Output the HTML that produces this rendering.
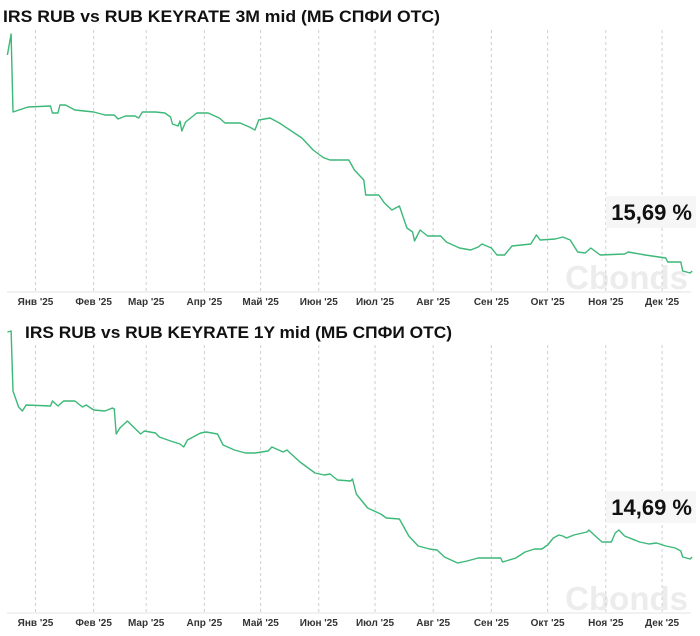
<!DOCTYPE html>
<html><head><meta charset="utf-8"><style>
html,body{margin:0;padding:0;background:#fff;width:700px;height:636px;overflow:hidden;font-family:"Liberation Sans",sans-serif;}
</style></head><body>
<svg id="chart" width="700" height="636" xmlns="http://www.w3.org/2000/svg">
<text x="3" y="22" font-size="17" font-weight="bold" fill="#111" textLength="437" lengthAdjust="spacingAndGlyphs">IRS RUB vs RUB KEYRATE 3M mid (МБ СПФИ ОТС)</text>
<text x="25" y="338" font-size="17" font-weight="bold" fill="#111" textLength="427" lengthAdjust="spacingAndGlyphs">IRS RUB vs RUB KEYRATE 1Y mid (МБ СПФИ ОТС)</text>
<g id="g1"></g><g id="g2"></g>
</svg>
<script>
const months = ["Янв '25","Фев '25","Мар '25","Апр '25","Май '25","Июн '25","Июл '25","Авг '25","Сен '25","Окт '25","Ноя '25","Дек '25"];
const monthDays = [0,31,59,90,120,151,181,212,243,273,304,334];
const days3m = [-15,-13,-12,-4,8,9,12,13,16,21,31,37,42,44,48,53,55,57,64,69,72,73,76,77,78,80,86,90,92,98,101,109,114,117,119,125,130,138,142,148,153,154,157,167,170,175,176,183,186,190,194,198,201,202,205,209,216,219,226,232,236,238,243,246,250,254,264,267,269,277,281,285,289,293,296,301,314,316,325,336,337,344,345,349,350];
const vals3m = [26.49,27.54,23.64,23.89,23.94,23.59,23.59,23.99,23.99,23.74,23.64,23.49,23.49,23.29,23.44,23.44,23.34,23.64,23.64,23.59,23.39,23.04,22.94,23.19,22.69,23.14,23.59,23.59,23.59,23.34,23.09,23.09,22.89,22.74,23.24,23.34,23.09,22.59,22.34,21.74,21.39,21.34,21.24,21.24,20.74,20.24,19.49,19.49,19.09,18.74,18.94,17.84,17.64,17.19,17.74,17.44,17.44,17.14,16.84,16.74,16.89,17.04,16.84,16.49,16.49,16.94,17.04,17.49,17.24,17.29,17.39,17.24,16.64,16.59,16.84,16.49,16.54,16.64,16.49,16.34,16.14,16.14,15.69,15.59,15.69];
const days1y = [-15,-13,-12,-9,-7,-5,8,9,12,15,21,25,27,31,37,41,42,43,45,49,56,58,64,66,72,77,79,81,88,91,97,100,106,112,117,124,126,132,134,141,149,154,157,161,168,169,171,177,184,187,194,199,204,210,214,218,225,230,236,243,248,249,256,261,266,270,273,276,279,281,283,287,294,295,299,302,307,309,311,314,322,327,331,336,341,344,345,349,350];
const vals1y = [25.94,25.99,22.99,22.19,21.99,22.29,22.24,22.49,22.24,22.49,22.49,22.19,22.29,22.04,21.99,22.14,22.09,20.84,21.14,21.49,20.84,20.99,20.89,20.69,20.49,20.34,20.19,20.54,20.89,20.94,20.84,20.29,20.04,19.89,19.89,19.99,20.19,19.94,20.04,19.44,18.89,18.79,18.84,18.54,18.49,18.59,17.84,17.14,16.84,16.64,16.59,15.74,15.24,15.09,15.04,14.69,14.39,14.49,14.64,14.64,14.64,14.44,14.64,14.94,15.09,15.09,15.29,15.64,15.79,15.74,15.64,15.79,15.94,16.04,15.69,15.44,15.44,15.89,16.04,15.74,15.44,15.34,15.39,15.24,15.14,14.99,14.69,14.59,14.69];
const lastLabels = ["15,69 %","14,69 %"];
const NS="http://www.w3.org/2000/svg";
function mk(tag,attrs,parent){const e=document.createElementNS(NS,tag);for(const k in attrs)e.setAttribute(k,attrs[k]);parent.appendChild(e);return e;}
function xScale(d){return 35.5+d*1.876;}
function draw(g,days,vals,cfg){
  const yS=v=>cfg.base-(v-cfg.vmin)*20;
  const wm=mk('text',{x:688,y:cfg.base-3,'font-size':33,'font-weight':'bold','text-anchor':'end',fill:'#ececec'},g);
  
  
  wm.textContent='Cbonds';
  monthDays.forEach((md,i)=>{
    const x=xScale(md);
    const gl=mk('line',{x1:x,x2:x,y1:cfg.top,y2:cfg.base,stroke:'#cfcfcf','stroke-dasharray':'3,3','stroke-width':1},g);
    
    
    const t=mk('text',{x:x,y:cfg.base+13,'font-size':10,'font-weight':'bold','text-anchor':'middle',fill:'#333'},g);
    
    
    t.textContent=months[i];
  });
  const ax=mk('line',{x1:7,x2:691,y1:cfg.base,y2:cfg.base,stroke:'#e3e3e3','stroke-width':1},g);
  
  
  const pts=days.map((d,i)=>xScale(d).toFixed(1)+','+yS(vals[i]).toFixed(1)).join(' ');
  const pl=mk('polyline',{points:pts,fill:'none',stroke:'#3cb878','stroke-width':1.4,'stroke-linejoin':'round'},g);
  
  
  const r=mk('rect',{x:606,y:cfg.labelY,width:90,height:32,fill:'#f6f6f6'},g);
  
  
  const lt=mk('text',{x:692,y:cfg.labelY+24,'font-size':22,'font-weight':'bold','text-anchor':'end',fill:'#111'},g);
  
  
  lt.textContent=cfg.label;
}
draw(document.getElementById('g1'),days3m,vals3m,{base:292,top:30,vmin:14.64,labelY:196,label:lastLabels[0]});
draw(document.getElementById('g2'),days1y,vals1y,{base:613,top:345,vmin:11.89,labelY:491,label:lastLabels[1]});
</script>
</body></html>
